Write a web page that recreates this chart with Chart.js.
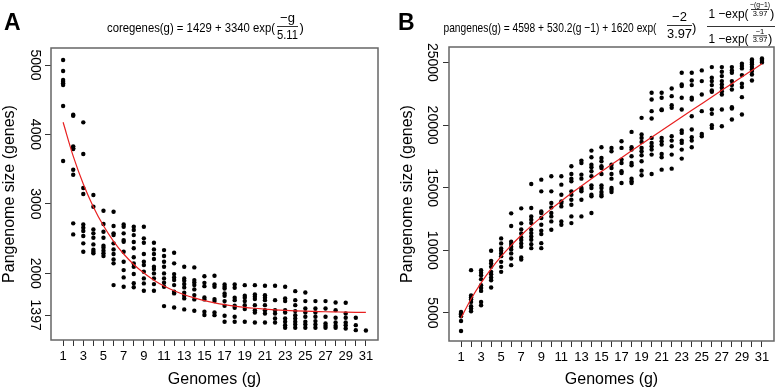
<!DOCTYPE html>
<html>
<head>
<meta charset="utf-8">
<script src="https://cdn.jsdelivr.net/npm/chart.js@4.4.1/dist/chart.umd.min.js"></script>
<style>
  html, body { margin: 0; padding: 0; background: #fff; }
  #wrap { position: relative; width: 778px; height: 389px; }
  canvas { position: absolute; top: 0; }
  #coreChart { left: 0; }
  #panChart { left: 390px; }
</style>
</head>
<body>
<div id="wrap">
  <canvas id="coreChart" width="390" height="389"></canvas>
  <canvas id="panChart" width="388" height="389"></canvas>
</div>
<script>
// Genome counts on the x axis
const genomes = [1, 2, 3, 4, 5, 6, 7, 8, 9, 10, 11, 12, 13, 14, 15, 16,
  17, 18, 19, 20, 21, 22, 23, 24, 25, 26, 27, 28, 29, 30, 31];

// Core genome sizes, one list per genome count (panel A)
const coreSizes = [
  [5072, 4914, 4784, 4759, 4736, 4712, 4409, 3617],
  [4284, 4270, 3828, 3800, 3790, 3492, 3420, 2719, 2560],
  [4174, 3718, 3228, 3141, 2704, 2656, 2608, 2536, 2431, 2310],
  [3127, 2958, 2632, 2575, 2511, 2416, 2340, 2310, 2287],
  [2900, 2709, 2598, 2511, 2396, 2367, 2324, 2287, 2248],
  [2886, 2680, 2575, 2550, 2431, 2344, 2277, 2200, 2143, 1830],
  [2704, 2670, 2575, 2478, 2454, 2310, 2166, 2046, 1941, 1805],
  [2672, 2624, 2550, 2450, 2360, 2230, 2140, 2094, 1990, 1856, 1798],
  [2670, 2503, 2440, 2277, 2166, 2118, 2022, 1926, 1854, 1748],
  [2440, 2344, 2277, 2205, 2094, 2061, 1998, 1926, 1844, 1748],
  [2334, 2248, 2166, 2094, 1998, 1926, 1863, 1805, 1527],
  [2295, 2143, 1988, 1941, 1902, 1830, 1733, 1710, 1508],
  [2094, 1926, 1892, 1844, 1797, 1719, 1676, 1638, 1480],
  [2085, 1902, 1868, 1830, 1768, 1686, 1624, 1460],
  [1958, 1862, 1815, 1652, 1624, 1446, 1400],
  [1964, 1839, 1805, 1628, 1599, 1436, 1397],
  [1839, 1805, 1781, 1709, 1676, 1599, 1532, 1388, 1301],
  [1839, 1791, 1647, 1613, 1532, 1503, 1373, 1301],
  [1829, 1676, 1647, 1599, 1541, 1484, 1301],
  [1829, 1695, 1661, 1628, 1541, 1469, 1436, 1292],
  [1820, 1685, 1647, 1613, 1541, 1469, 1421, 1292],
  [1820, 1613, 1469, 1421, 1349, 1292],
  [1805, 1637, 1599, 1469, 1436, 1349, 1301, 1253, 1215],
  [1743, 1613, 1541, 1455, 1397, 1349, 1301, 1263, 1215],
  [1724, 1599, 1493, 1436, 1373, 1301, 1263, 1215],
  [1599, 1493, 1436, 1373, 1311, 1263, 1215],
  [1599, 1493, 1373, 1277, 1244, 1215],
  [1580, 1469, 1359, 1292, 1244, 1215],
  [1575, 1421, 1359, 1292, 1253, 1205],
  [1359, 1253, 1181],
  [1176]
];

// Fitted core curve read at each genome count
const coreFit = [4175, 3687, 3286, 2956, 2684, 2461, 2278, 2127, 2003, 1901,
  1817, 1748, 1691, 1645, 1606, 1575, 1549, 1528, 1510, 1496, 1484, 1474,
  1466, 1459, 1454, 1450, 1446, 1443, 1440, 1438, 1437];

// Pan genome sizes, one list per genome count (panel B)
const panSizes = [
  [5080, 4950, 4900, 4736, 4360, 3560],
  [8416, 6400, 6250, 6100, 5880, 5540, 5350, 5140],
  [8416, 8200, 8016, 7696, 7216, 7000, 6760, 5880, 5616],
  [9960, 9160, 8952, 8680, 8280, 8096, 7832, 7616, 7032],
  [10952, 10552, 10152, 9960, 9752, 9536, 9080, 8680, 8280],
  [12952, 11936, 10680, 10496, 10280, 10072, 9752, 9352, 8816],
  [13352, 12152, 11672, 11352, 11032, 10816, 10552, 10280, 9432, 9272],
  [15295, 13374, 12700, 12440, 12174, 11641, 11374, 11108, 10841, 10494, 10174],
  [15641, 14708, 13108, 12974, 12574, 12041, 11561, 11294, 10574, 10174],
  [15908, 14708, 13774, 13428, 12974, 12708, 12308, 11641],
  [15908, 15241, 14441, 13908, 13774, 13508, 12308, 12041],
  [16708, 16095, 15721, 15508, 14708, 14441, 14041, 13641, 12708, 12174],
  [17162, 16975, 16041, 15721, 14975, 14841, 14708, 14041, 12708],
  [17961, 17428, 16841, 16628, 16308, 15908, 15188, 14975, 14441, 14308, 12974],
  [18228, 17375, 17108, 16708, 16575, 16095, 15188, 14975, 14655, 14441, 14308],
  [18175, 17908, 16841, 16575, 16095, 15721, 14975, 14841, 14655],
  [18708, 18175, 17241, 16975, 16308, 16175, 15375],
  [19455, 18228, 18041, 17508, 16975, 16788, 15721, 15508, 15375],
  [20575, 19241, 18975, 18655, 18175, 17908, 17588, 17108, 16361, 15988],
  [22575, 22042, 21109, 20522, 18975, 18575, 18308, 18041, 17641, 16095],
  [22575, 22176, 21242, 21189, 18975, 18708, 18441, 17695, 17428, 16441],
  [22922, 22309, 21589, 21375, 19108, 18761, 18308, 17641, 16521],
  [24176, 23242, 23109, 22176, 21242, 19562, 19375, 18761, 18575, 18041, 17321],
  [24176, 23562, 23189, 22176, 22042, 20709, 19642, 19028, 18761, 18228],
  [24362, 23509, 22442, 21109, 19295, 19108],
  [24629, 23776, 23509, 23189, 22762, 22656, 21242, 20895, 19989, 19775],
  [24629, 24256, 23909, 23509, 23242, 22976, 22709, 22442, 21242, 19909],
  [24629, 24362, 24176, 23509, 23189, 22842, 21429, 21322, 20442],
  [24896, 24709, 24522, 23989, 23296, 23029, 22229, 20842],
  [25242, 25109, 24976, 24842, 24629, 24442, 24309, 24042, 23562],
  [25322, 25216, 25109, 25002]
];

// Fitted pan curve read at each genome count
const panFit = [4598, 6107, 7398, 8519, 9509, 10397, 11204, 11950, 12649,
  13310, 13941, 14550, 15141, 15720, 16287, 16845, 17398, 17946, 18490,
  19030, 19568, 20105, 20640, 21175, 21708, 22240, 22771, 23302, 23834,
  24365, 24896];

const coreTicks = [1397, 2000, 3000, 4000, 5000];
const panTicks = [5000, 10000, 15000, 20000, 25000];

const FONT = "'Liberation Sans', Arial, Helvetica, sans-serif";

function txt(ctx, s, x, y, size, align, maxWidth, bold) {
  ctx.font = (bold ? "bold " : "") + size + "px " + FONT;
  ctx.textAlign = align || "left";
  ctx.textBaseline = "alphabetic";
  ctx.fillStyle = "#000";
  if (maxWidth) ctx.fillText(s, x, y, maxWidth);
  else ctx.fillText(s, x, y);
}

function rule(ctx, x1, x2, y) {
  ctx.beginPath();
  ctx.moveTo(x1, y);
  ctx.lineTo(x2, y);
  ctx.lineWidth = 0.8;
  ctx.strokeStyle = "#000";
  ctx.stroke();
}

function drawCoreTitle(ctx) {
  txt(ctx, "A", 4, 30, 23, "left", null, true);
  txt(ctx, "coregenes(g) = 1429 + 3340 exp(", 107, 31.5, 13, "left", 168);
  txt(ctx, "\u2212g", 287.5, 22, 13, "center");
  rule(ctx, 277, 298, 26.5);
  txt(ctx, "5.11", 287.5, 38.5, 13, "center", 21);
  txt(ctx, ")", 299.5, 31.5, 13, "left");
}

function drawPanTitle(ctx) {
  txt(ctx, "B", 8, 30, 23, "left", null, true);
  txt(ctx, "pangenes(g) = 4598 + 530.2(g \u22121) + 1620 exp(", 53.5, 31.7, 13, "left", 213);
  txt(ctx, "\u22122", 289.5, 20.7, 13, "center");
  rule(ctx, 277, 302, 25.5);
  txt(ctx, "3.97", 289.5, 38.3, 13, "center", 25);
  txt(ctx, ")", 302, 31.7, 13, "left");
  // big fraction
  rule(ctx, 317, 385, 26.5);
  txt(ctx, "1 \u2212exp(", 318.5, 17.5, 13, "left", 40);
  txt(ctx, "\u2212(g\u22121)", 370, 7.3, 7.5, "center", 20);
  rule(ctx, 361, 379, 9.5);
  txt(ctx, "3.97", 370, 15.5, 7.5, "center");
  txt(ctx, ")", 380, 17.5, 13, "left");
  txt(ctx, "1 \u2212exp(", 318.5, 42.5, 13, "left", 40);
  txt(ctx, "\u22121", 370, 34, 7.5, "center");
  rule(ctx, 363, 377, 35.8);
  txt(ctx, "3.97", 370, 42, 7.5, "center");
  txt(ctx, ")", 378, 42.5, 13, "left");
}

const boxPlugin = {
  id: "box",
  afterDraw(chart) {
    const a = chart.chartArea;
    const ctx = chart.ctx;
    ctx.save();
    ctx.strokeStyle = "#666";
    ctx.lineWidth = 1.5;
    ctx.strokeRect(a.left, a.top, a.right - a.left, a.bottom - a.top);
    ctx.restore();
  }
};

function makeChart(id, sizes, fit, yMin, yMax, yTicks, dims, drawTitle) {
  const points = [];
  sizes.forEach((col, i) => col.forEach(v => points.push({ x: genomes[i], y: v })));
  const curve = genomes.map((g, i) => ({ x: g, y: fit[i] }));

  return new Chart(document.getElementById(id), {
    type: "scatter",
    data: {
      datasets: [
        {
          data: curve,
          showLine: true,
          borderColor: "rgb(232,32,32)",
          borderWidth: 1.2,
          pointRadius: 0,
          cubicInterpolationMode: "monotone"
        },
        {
          data: points,
          pointRadius: 2.2,
          backgroundColor: "#000",
          borderWidth: 0
        }
      ]
    },
    options: {
      responsive: false,
      animation: false,
      events: [],
      layout: { padding: { top: dims.top, right: dims.right, left: 0, bottom: 0 } },
      plugins: { legend: { display: false }, tooltip: { enabled: false } },
      scales: {
        x: {
          type: "linear",
          min: -0.2,
          max: 32.2,
          afterBuildTicks: s => { s.ticks = genomes.map(v => ({ value: v })); },
          afterFit: s => { s.height = dims.xh; },
          grid: { drawOnChartArea: false, tickLength: 6, color: "#333" },
          border: { display: false },
          ticks: {
            autoSkip: false,
            maxRotation: 0,
            padding: 3,
            color: "#000",
            font: { family: FONT, size: 13 },
            callback: v => (v % 2 ? String(v) : "")
          },
          title: {
            display: true,
            text: "Genomes (g)",
            color: "#000",
            font: { family: FONT, size: 16 },
            padding: { top: 0, bottom: 0 }
          }
        },
        y: {
          min: yMin,
          max: yMax,
          afterBuildTicks: s => { s.ticks = yTicks.map(v => ({ value: v })); },
          afterFit: s => { s.width = dims.yw; },
          grid: { drawOnChartArea: false, tickLength: 6, color: "#333" },
          border: { display: false },
          ticks: {
            minRotation: -90,
            maxRotation: -90,
            crossAlign: "center",
            padding: dims.ytp,
            color: "#000",
            font: { family: FONT, size: 14 },
            callback: v => String(v)
          },
          title: {
            display: true,
            text: "Pangenome size (genes)",
            color: "#000",
            font: { family: FONT, size: 16 },
            padding: { top: dims.yt, bottom: 0 }
          }
        }
      }
    },
    plugins: [boxPlugin, { id: "heading", afterDraw: c => drawTitle(c.ctx) }]
  });
}

makeChart("coreChart", coreSizes, coreFit, 1039, 5245, coreTicks,
  { top: 48, right: 12, xh: 49, yw: 51, ytp: -5, yt: 0 }, drawCoreTitle);
makeChart("panChart", panSizes, panFit, 2760, 26232, panTicks,
  { top: 47, right: 2, xh: 48, yw: 59, ytp: -8.3, yt: 8 }, drawPanTitle);
</script>
</body>
</html>
